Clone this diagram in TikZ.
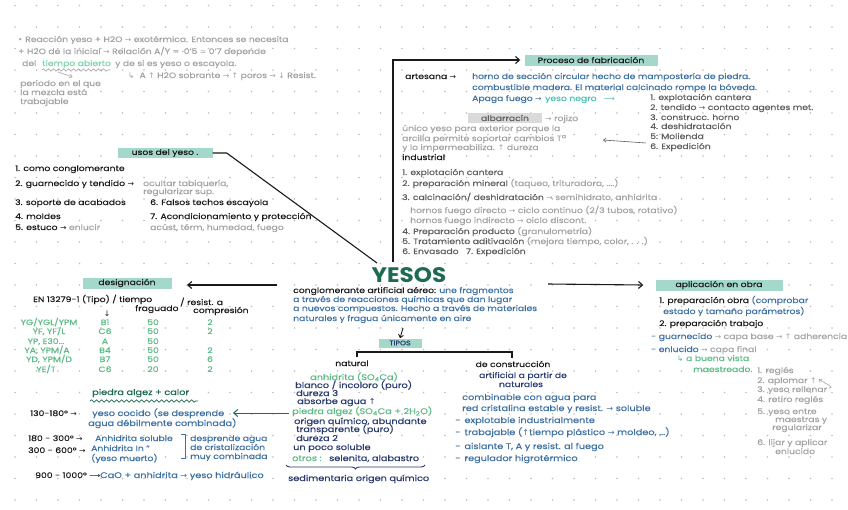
\documentclass[tikz,border=0pt]{standalone}
\usepackage{fontspec}
\setmainfont{Poppins}[FakeStretch=1.2, FakeBold=0.35]
\newfontfamily\symf{DejaVu Sans}
\newfontfamily\headf{Poppins}[FakeStretch=1.1]
\usetikzlibrary{decorations.pathmorphing,decorations.pathreplacing,arrows.meta,calc}
\definecolor{cdot}{HTML}{BEBEBE}
\definecolor{cgrey}{HTML}{A3A3A3}
\definecolor{cdgrey}{HTML}{5E5E5E}
\definecolor{cblue}{HTML}{3E71A3}
\definecolor{cteal}{HTML}{A4D8CB}
\definecolor{chl}{HTML}{DADADA}
\definecolor{clgreen}{HTML}{5DBB85}
\definecolor{cmint}{HTML}{7DD3A8}
\definecolor{cdgreen}{HTML}{1E6B50}
\definecolor{cnavy}{HTML}{283A6E}
\definecolor{cink}{HTML}{1A1A1A}
\definecolor{cyn}{HTML}{4FC0B3}
\newcommand{\rarr}{{\symf →}}
\newcommand{\uarr}{{\symf ↑}}
\newcommand{\darr}{{\symf ↓}}
\newcommand{\sbs}[1]{\textsubscript{#1}}
\newcommand{\fsz}{\fontsize{7.7}{9}\selectfont}
\newcommand{\fszb}{\fontsize{8.1}{9}\selectfont}
\tikzset{
  tx/.style={anchor=base west, inner sep=0pt, font=\fsz},
  txb/.style={anchor=base west, inner sep=0pt, font=\fszb},
  txc/.style={anchor=base, inner sep=0pt, font=\fsz},
  hbox/.style={fill=#1, inner sep=0pt, font=\fsz, text=cink},
  ln/.style={line width=1.1pt, cink},
  arr/.style={line width=1.1pt, cink, -{Straight Barb[length=4pt,width=7pt]}},
  thin/.style={line width=0.6pt, -{Straight Barb[length=2.5pt,width=4pt]}}
}
\begin{document}
\begin{tikzpicture}[x=1pt,y=-1pt]
\useasboundingbox (0,0) rectangle (848,509);
\fill[white] (0,0) rectangle (848,509);
\foreach \i in {0,...,38} \foreach \j in {0,...,23} \fill[cdot] (15+\i*21.5, 5.5+\j*21.5) circle (0.85pt);

% ---------- top-left notes
\node[tx,cgrey] (a1) at (18,42) {{\symf •} Reacción yeso + H2O \rarr\ exotérmica. Entonces se necesita};
\node[tx,cgrey] (a2) at (18,54) {+ H2O de la inicial \rarr\ Relación A/Y = ·0'5 {\symf ≃} 0'7 depende};
\node[tx,cgrey] (a3) at (22,66) {del};
\node[tx,cmint] (a3b) at (42,66) {tiempo abierto};
\node[tx,cgrey] (a3c) at (115,66) {y de si es yeso o escayola.};
\draw[cgrey, line width=0.6pt, decorate, decoration={snake, amplitude=1.2pt, segment length=5pt}] (42,70) -- (110,70);
\coordinate (a3x) at (58,72);
\node[tx,cgrey] (a4) at (20,86) {periodo en el que};
\node[tx,cgrey] (a5) at (20,95) {la mezcla está};
\node[tx,cgrey] (a6) at (20,104) {trabajable};
\draw[cgrey,thin] (a3x) -- ($(a4.north)+(12,-3)$);
\node[tx,cgrey] (a7) at (128,78) {{\symf ↳}\ \ A \uarr\ H2O sobrante \rarr\ \uarr\ poros \rarr\ \darr\ Resist.};

% ---------- proceso de fabricación
\node[hbox=cteal, minimum width=133pt, minimum height=11pt] (proc) at (591,60) {Proceso de fabricación};
\coordinate (c1) at (393,262);
\draw[arr] (c1) |- ([xshift=-4pt]proc.west);
\node[tx,cink] (p1) at (405,79) {artesana \rarr};
\node[tx,cblue] (p2) at (472,79) {horno de sección circular hecho de mampostería de piedra.};
\node[tx,cblue] (p3) at (472,90) {combustible madera. El material calcinado rompe la bóveda.};
\node[tx,cblue] (p4) at (472,101) {Apaga fuego \rarr};
\node[tx,cyn] (p5) at (545,101) {yeso negro \ \ {\symf ⟶}};
\node[tx,cdgrey] (q1) at (650,100) {1. explotación cantera};
\node[tx,cdgrey] (q2) at (650,110) {2. tendido \rarr\ contacto agentes met.};
\node[tx,cdgrey] (q3) at (650,120) {3. construcc. horno};
\node[tx,cdgrey] (q4) at (650,129) {4. deshidratación};
\node[tx,cdgrey] (q5) at (650,139) {5: Molienda};
\node[tx,cdgrey] (q6) at (650,149) {6. Expedición};
\coordinate (q6a) at (603,140);
\draw[cdgrey,thin] (q6.west) ++(-4,-4) -- (q6a);
\node[hbox=chl, minimum width=74pt, minimum height=10pt, text=cdgrey] (alb) at (505,118) {albarracín};
\node[tx,cgrey] (alb2) at (545,121) {\rarr\ rojizo};
\node[tx,cgrey] (r1) at (402,131) {único yeso para exterior porque la};
\node[tx,cgrey] (r2) at (402,141) {arcilla permite soportar cambios T\textsuperscript{a}};
\node[tx,cgrey] (r3) at (402,150) {y lo impermeabiliza. \uarr\ dureza};
\node[tx,cink] (ind) at (402,160) {industrial};
\node[tx,cdgrey] (i1) at (402,175) {1. explotación cantera};
\node[tx,cdgrey] (i2) at (402,186) {2. preparación mineral \textcolor{cgrey}{(taqueo, trituradora, ....)}};
\node[tx,cdgrey] (i3) at (402,200) {3. calcinación/ deshidratación \textcolor{cgrey}{\rarr\ semihidrato, anhidrita}};
\node[tx,cgrey] (i3b) at (410,213) {hornos fuego directo \rarr\ ciclo continuo (2/3 tubos, rotativo)};
\node[tx,cgrey] (i3c) at (410,223) {hornos fuego indirecto \rarr\ ciclo discont.};
\node[tx,cdgrey] (i4) at (402,234) {4. Preparación producto \textcolor{cgrey}{(granulometría)}};
\node[tx,cdgrey] (i5) at (402,244) {5. Tratamiento aditivación \textcolor{cgrey}{(mejora tiempo, color, . . .)}};
\node[tx,cdgrey] (i6) at (402,254) {6. Envasado \ \ 7. Expedición};

% ---------- usos del yeso
\node[hbox=cteal, minimum width=95pt, minimum height=10pt] (usos) at (165,153) {usos del yeso .};
\coordinate (c2) at (377,263);
\draw[ln] (usos.east) -- ++(14,0) -- (c2);
\node[tx,cink] (u1) at (15,171) {1. como conglomerante};
\node[tx,cink] (u2) at (15,186) {2. guarnecido y tendido \rarr};
\node[tx,cgrey] (u2b) at (143,186) {ocultar tabiquería,};
\node[tx,cgrey] (u2c) at (143,194) {regularizar sup.};
\node[tx,cink] (u3) at (15,205) {3. soporte de acabados};
\node[tx,cink] (u4) at (15,219) {4. moldes};
\node[tx,cink] (u5) at (15,230) {5. estuco \rarr\ \textcolor{cgrey}{enlucir}};
\node[tx,cink] (u6) at (150,205) {6. Falsos techos escayola};
\node[tx,cink] (u7) at (150,219) {7. Acondicionamiento y protección};
\node[tx,cgrey] (u8) at (150,230) {acúst, térm, humedad, fuego};

% ---------- YESOS
\node[inner sep=0pt, text=cdgreen, font=\headf\fontsize{21}{21}\bfseries\selectfont] (yesos) at (409,275) {YESOS};
\node[tx,cink] (y1) at (293,293) {conglomerante artificial aéreo: \textcolor{cblue}{une fragmentos}};
\node[tx,cblue] (y2) at (293,302) {a través de reacciones químicas que dan lugar};
\node[tx,cblue] (y3) at (293,311) {a nuevos compuestos. Hecho a través de materiales};
\node[tx,cblue] (y4) at (293,321) {naturales y fragua únicamente en aire};
\node[hbox=cteal, minimum width=43pt, minimum height=9pt, text=cnavy, font=\fontsize{6.5}{7}\selectfont] (tipos) at (400,343) {TIPOS};
\coordinate (c4) at (403,328);
\draw[ln, line width=0.9pt, -{Straight Barb[length=3pt,width=5pt]}] (c4) -- (tipos.north);
\draw[ln] (357,357) -- (357,352) -- (512,352) -- (512,358);

% ---------- natural
\node[txc,cink] (nat) at (352,366) {natural};
\node[txb,clgreen] (n1) at (310,380) {anhidrita (SO\sbs{4}Ca)};
\node[txb,cnavy] (n2) at (295,388) {blanco / incoloro (puro)};
\node[txb,cnavy] (n3) at (296,396) {dureza 3};
\node[txb,cnavy] (n4) at (297,404) {absorbe agua \uarr};
\node[txb,clgreen] (n5) at (292,414) {piedra algez (SO\sbs{4}Ca + 2H\sbs{2}O)};
\node[txb,cnavy] (n6) at (294,424) {origen químico, abundante};
\node[txb,cnavy] (n7) at (296,432) {transparente (puro)};
\node[txb,cnavy] (n8) at (296,441) {dureza 2};
\node[txb,cnavy] (n9) at (293,450) {un poco soluble};
\node[txb,clgreen] (n10) at (292,461) {otros :};
\node[txb,cnavy] (n11) at (329,461) {selenita, alabastro};
\draw[cnavy, line width=0.9pt, decorate, decoration={brace, amplitude=4pt, mirror}] (286,465) -- (425,465);
\node[txb,cnavy] (n12) at (288,481) {sedimentaria origen químico};
\coordinate (c5) at (289,413);
\draw[cdgreen, line width=1pt, -{Straight Barb[length=4pt,width=7pt]}] (c5) -- (233,413);

% ---------- de construcción
\node[txc,cink] (con) at (513,367) {de construcción};
\node[txc,cnavy] (k1) at (523,378) {artificial a partir de};
\node[txc,cnavy] (k2) at (521,387) {naturales};
\node[txb,cblue] (k3) at (462,400) {combinable con agua para};
\node[txb,cblue] (k4) at (462,411) {red cristalina estable y resist. \rarr\ soluble};
\node[txb,cblue] (k5) at (455,423) {- \,explotable industrialmente};
\node[txb,cblue] (k6) at (455,435) {- \,trabajable (\uarr tiempo plástico \rarr\ moldeo, ...)};
\node[txb,cblue] (k7) at (455,449) {- \,aislante T, A y resist. al fuego};
\node[txb,cblue] (k8) at (455,461) {- \,regulador higrotérmico};

% ---------- designación
\node[hbox=cteal, minimum width=89pt, minimum height=11pt] (desig) at (127,283) {designación};
\coordinate (c3) at (277,285);
\draw[arr] (c3) -- (187,285);
\node[tx,cink] (d1) at (33,302) {EN 13279-1 (Tipo) / tiempo};
\node[tx,cink] (d2) at (135,311) {fraguado};
\node[tx,cink] (d3) at (180,305) {/ resist. a};
\node[tx,cink] (d4) at (193,313) {compresión};
\node[txc,cink] (d5) at (107,316) {\darr};
\node[txc,clgreen] (g1a) at (49,325) {YG/YGL/YPM};
\node[txc,clgreen] (g2a) at (49,334) {YF, YF/L};
\node[txc,clgreen] (g3a) at (46,344) {YP, E30...};
\node[txc,clgreen] (g4a) at (47,353) {YA, YPM/A};
\node[txc,clgreen] (g5a) at (49,362) {YD, YPM/D};
\node[txc,clgreen] (g6a) at (46,372) {YE/T};
\node[txc,clgreen] (g1b) at (105,325) {B1};
\node[txc,clgreen] (g2b) at (105,334) {C6};
\node[txc,clgreen] (g3b) at (105,344) {A};
\node[txc,clgreen] (g4b) at (105,353) {B4};
\node[txc,clgreen] (g5b) at (105,362) {B7};
\node[txc,clgreen] (g6b) at (105,372) {C6};
\node[txc,clgreen] (g1c) at (153,325) {50};
\node[txc,clgreen] (g2c) at (153,334) {50};
\node[txc,clgreen] (g3c) at (153,344) {50};
\node[txc,clgreen] (g4c) at (153,353) {50};
\node[txc,clgreen] (g5c) at (153,362) {50};
\node[txc,clgreen] (g6c) at (153,372) {20};
\node[txc,clgreen] (g1d) at (210,325) {2};
\node[txc,clgreen] (g2d) at (210,334) {2};
\node[txc,clgreen] (g4d) at (210,353) {2};
\node[txc,clgreen] (g5d) at (210,362) {6};
\node[txc,clgreen] (g6d) at (210,372) {2};

% ---------- piedra algez + calor
\node[txb,cdgreen] (h0) at (92,395) {piedra algez + calor};
\draw[cdgreen, line width=0.7pt, decorate, decoration={snake, amplitude=1.2pt, segment length=5pt}] (90,401) -- (198,401);
\node[tx,cink] (h1) at (30,416) {130-180° \rarr};
\node[txb,cblue] (h2) at (92,416) {yeso cocido (se desprende};
\node[txb,cblue] (h3) at (88,426) {agua débilmente combinada)};
\node[tx,cink] (h4) at (28,441) {180 - 300° \rarr};
\node[tx,cblue] (h5) at (95,441) {Anhidrita soluble};
\node[tx,cink] (h6) at (28,453) {300 - 600° \rarr};
\node[tx,cblue] (h7) at (91,451) {Anhidrita In ''};
\node[tx,cblue] (h8) at (91,461) {(yeso muerto)};
\draw[cblue, line width=0.7pt] (181,434) -- (185,434) -- (185,458) -- (181,458);
\node[tx,cblue] (h9) at (190,441) {desprende agua};
\node[tx,cblue] (h10) at (190,450) {de cristalización};
\node[tx,cblue] (h11) at (190,459) {muy combinada};
\node[tx,cink] (h12) at (35,478) {900 - 1000° {\symf ⟶}};
\node[txb,cblue] (h13) at (100,478) {CaO + anhidrita \rarr\ yeso hidráulico};

% ---------- aplicación en obra
\node[hbox=cteal, minimum width=127pt, minimum height=11pt] (apl) at (719,285) {aplicación en obra};
\coordinate (c6) at (548,284);
\draw[arr] (c6) -- ([xshift=-12pt]apl.west);
\node[tx,cink] (o1) at (659,303) {1. preparación obra \textcolor{cblue}{(comprobar}};
\node[tx,cblue] (o2) at (663,314) {estado y tamaño parámetros)};
\node[tx,cink] (o3) at (659,326) {2. preparación trabajo};
\node[tx,cblue] (o4) at (651,339) {- guarnecido \textcolor{cgrey}{\rarr\ capa base \rarr\ \uarr\ adherencia}};
\node[tx,cblue] (o5) at (651,352) {- enlucido \textcolor{cgrey}{\rarr\ capa final}};
\node[tx,clgreen] (o6) at (677,361) {{\symf ↳}\ a buena vista};
\node[tx,clgreen] (o7) at (693,372) {maestreado.};
\node[tx,cgrey] (m1) at (757,373) {1. reglés};
\node[tx,cgrey] (m2) at (757,383) {2. aplomar \uarr};
\node[tx,cgrey] (m3) at (757,392) {3. yeso rellenar};
\node[tx,cgrey] (m4) at (757,402) {4. retiro reglés};
\node[tx,cgrey] (m5) at (757,414) {5. yeso entre};
\node[tx,cgrey] (m6) at (775,422) {maestras y};
\node[tx,cgrey] (m7) at (772,430) {regularizar};
\node[tx,cgrey] (m8) at (757,445) {6. lijar y aplicar};
\node[tx,cgrey] (m9) at (775,454) {enlucido};
\draw[cgrey, thin] (m3.east) ++(1,-2) .. controls ++(8,0) and ++(6,4) .. ($(m2.east)+(2,-2)$);
\end{tikzpicture}
\end{document}
